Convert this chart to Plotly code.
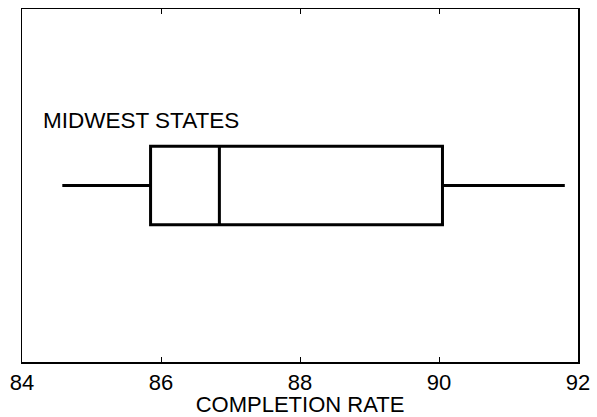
import plotly.graph_objects as go

group = "MIDWEST STATES"
lower_fence = [84.58]
q1 = [85.85]
median = [86.84]
q3 = [90.05]
upper_fence = [91.81]
x_ticks = [84, 86, 88, 90, 92]

FONT = "Liberation Sans, Arial, sans-serif"

fig = go.Figure()
fig.add_trace(go.Box(
    y=[0], q1=q1, median=median, q3=q3,
    lowerfence=lower_fence, upperfence=upper_fence,
    orientation="h", name=group,
    fillcolor="white", line=dict(color="black", width=3),
    width=0.446, whiskerwidth=0, boxpoints=False, hoverinfo="x",
))

fig.add_annotation(
    x=84.28, y=0.683, xref="x", yref="paper", text=group,
    showarrow=False, xanchor="left", yanchor="middle",
    font=dict(family=FONT, size=22.5, color="black"),
)

fig.update_layout(
    width=597, height=417,
    margin=dict(l=22, r=16, t=7, b=51),
    paper_bgcolor="white", plot_bgcolor="white",
    showlegend=False,
    font=dict(family=FONT, size=22, color="black"),
    xaxis=dict(
        range=[84, 92], tickvals=x_ticks, ticktext=[str(t) for t in x_ticks],
        ticks="inside", ticklen=5, tickwidth=1, tickcolor="black",
        showline=True, linecolor="black", linewidth=1.5, mirror="ticks",
        showgrid=False, zeroline=False,
        tickfont=dict(size=22),
        title=dict(text="COMPLETION RATE", font=dict(size=22), standoff=0),
    ),
    yaxis=dict(
        range=[-1, 1], showticklabels=False, ticks="",
        showline=True, linecolor="black", linewidth=1.5, mirror=True,
        showgrid=False, zeroline=False,
    ),
)

fig.write_html(
    "out.html",
    config={"displayModeBar": False, "staticPlot": True},
    post_script="document.body.style.margin='0';document.body.style.overflow='hidden';",
)
